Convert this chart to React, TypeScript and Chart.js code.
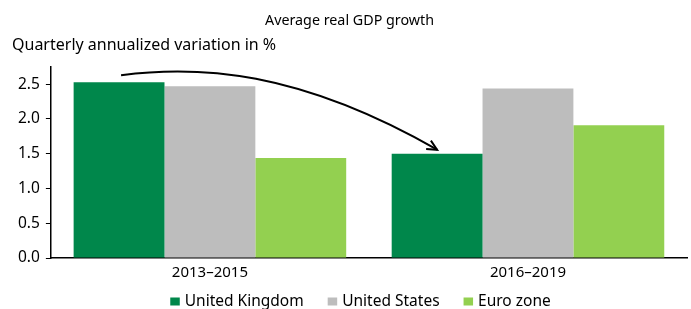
import React, { useEffect, useRef } from "react";
import { Chart, registerables } from "chart.js";

Chart.register(...registerables);

const categories = ["2013–2015", "2016–2019"];
const seriesNames = ["United Kingdom", "United States", "Euro zone"];
const ukValues = [2.53, 1.5];
const usValues = [2.47, 2.44];
const euValues = [1.44, 1.91];
const yTicks = [0, 0.5, 1.0, 1.5, 2.0, 2.5];
const colors = ["#00874B", "#BDBDBD", "#93D050"];

const FONT = "'Noto Sans', sans-serif";

const arrowPlugin = {
  id: "arrow",
  afterDatasetsDraw(chart: any) {
    const meta = chart.getDatasetMeta(0);
    const a = meta.data[0];
    const b = meta.data[1];
    if (!a || !b) return;
    const ctx = chart.ctx;
    const x0 = a.x + 2, y0 = a.y - 7;
    const x3 = b.x, y3 = b.y - 4;
    const dx = x3 - x0;
    const x1 = x0 + dx * 0.245, y1 = y0 - 10;
    const x2 = x0 + dx * 0.56, y2 = y0 - 5;
    ctx.save();
    ctx.strokeStyle = "#000";
    ctx.lineWidth = 2;
    ctx.beginPath();
    ctx.moveTo(x0, y0);
    ctx.bezierCurveTo(x1, y1, x2, y2, x3, y3);
    ctx.stroke();
    const ang = Math.atan2(y3 - y2, x3 - x2);
    const L = 11;
    ctx.beginPath();
    ctx.moveTo(x3 + Math.cos(ang + Math.PI - 0.45) * L, y3 + Math.sin(ang + Math.PI - 0.45) * L);
    ctx.lineTo(x3, y3);
    ctx.lineTo(x3 + Math.cos(ang + Math.PI + 0.45) * L, y3 + Math.sin(ang + Math.PI + 0.45) * L);
    ctx.stroke();
    ctx.restore();
  },
};

const legendPlugin = {
  id: "customLegend",
  afterDraw(chart: any) {
    const ctx = chart.ctx;
    const datasets = chart.data.datasets;
    const boxW = 9.5, boxH = 8, gapBox = 5, gapItem = 24;
    ctx.save();
    ctx.font = `15.5px ${FONT}`;
    const widths = datasets.map((d: any) => ctx.measureText(d.label).width);
    const total =
      widths.reduce((s: number, w: number) => s + w + boxW + gapBox, 0) + gapItem * (datasets.length - 1);
    let x = chart.width / 2 + 15 - total / 2;
    const baseline = chart.height - 3.5;
    ctx.textBaseline = "alphabetic";
    ctx.textAlign = "left";
    datasets.forEach((d: any, i: number) => {
      ctx.fillStyle = d.backgroundColor;
      ctx.fillRect(x, baseline - boxH, boxW, boxH);
      x += boxW + gapBox;
      ctx.fillStyle = "#000";
      ctx.fillText(d.label, x, baseline);
      x += widths[i] + gapItem;
    });
    ctx.restore();
  },
};

export default function App() {
  const ref = useRef<HTMLCanvasElement>(null);
  useEffect(() => {
    document.body.style.margin = "0";
    const chart = new Chart(ref.current!, {
      type: "bar",
      data: {
        labels: categories,
        datasets: [ukValues, usValues, euValues].map((d, i) => ({
          label: seriesNames[i],
          data: d,
          backgroundColor: colors[i],
          borderWidth: 0,
          categoryPercentage: 0.857,
          barPercentage: 1,
        })),
      },
      options: {
        animation: false,
        responsive: false,
        maintainAspectRatio: false,
        layout: { padding: { left: 12, right: 4, top: 4, bottom: 22 } },
        plugins: {
          title: {
            display: true,
            text: "Average real GDP growth",
            color: "#000",
            font: { family: FONT, size: 14.3, weight: "normal" },
            padding: { top: 8.5, bottom: 6 },
          },
          subtitle: {
            display: true,
            text: "Quarterly annualized variation in %",
            align: "start",
            color: "#000",
            font: { family: FONT, size: 16, weight: "normal" },
            padding: { top: 0, bottom: 12 },
          },
          legend: { display: false },
          tooltip: { enabled: false },
        },
        scales: {
          x: {
            grid: { display: false, drawTicks: false, tickLength: 0 },
            border: { display: true, color: "#000", width: 1.5 },
            ticks: { color: "#000", font: { family: FONT, size: 15, lineHeight: 0.2 }, padding: 13 },
          },
          y: {
            min: 0,
            max: 2.75,
            afterBuildTicks: (scale: any) => {
              scale.ticks = yTicks.map((v) => ({ value: v }));
            },
            grid: { drawOnChartArea: false, drawTicks: true, tickLength: 5, color: "#000" },
            border: { display: true, color: "#000", width: 1.5 },
            ticks: {
              color: "#000",
              font: { family: FONT, size: 15.5 },
              padding: 6,
              callback: (v: any) => Number(v).toFixed(1),
            },
          },
        },
      },
      plugins: [arrowPlugin, legendPlugin],
    });
    return () => chart.destroy();
  }, []);
  return (
    <div style={{ width: 691, height: 309 }}>
      <canvas ref={ref} width={691} height={309} />
    </div>
  );
}
